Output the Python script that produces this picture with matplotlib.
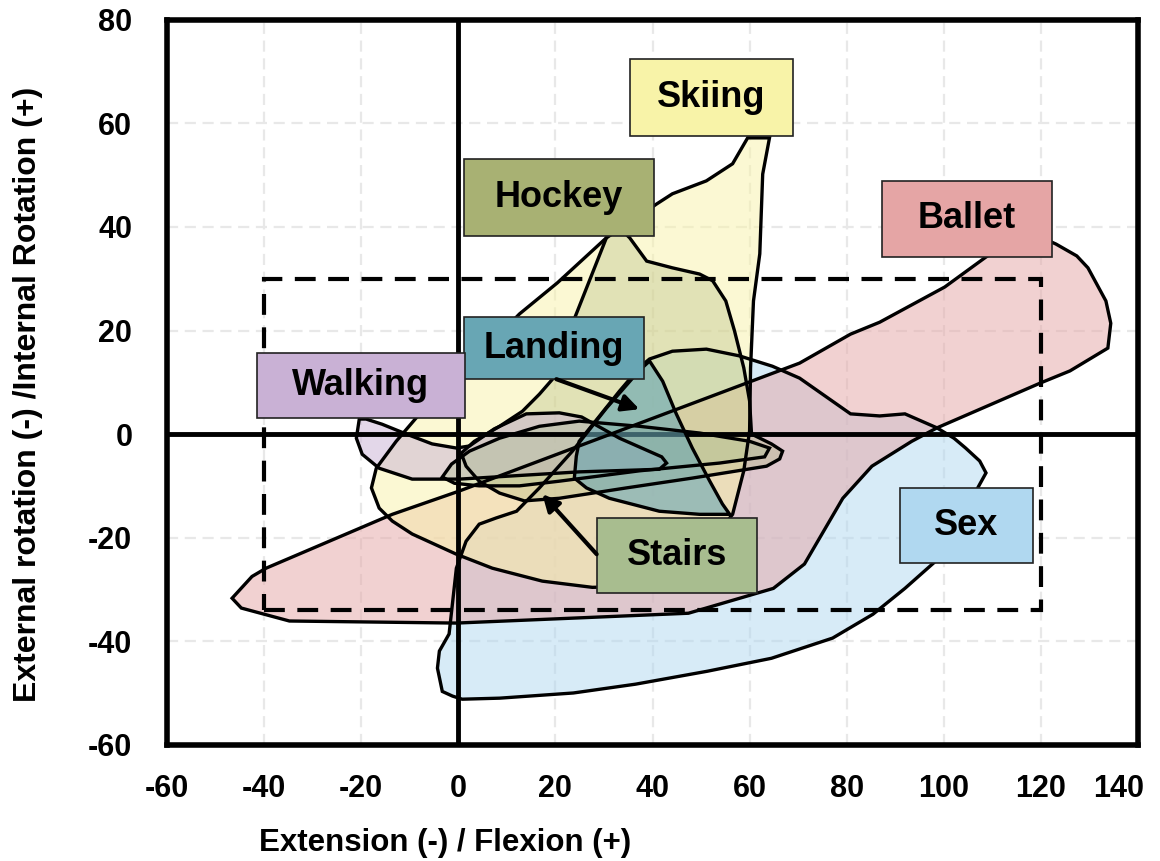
import matplotlib
matplotlib.use('Agg')
import matplotlib.pyplot as plt
from matplotlib.colors import to_rgba
from matplotlib.patches import Rectangle
from matplotlib.transforms import ScaledTranslation

plt.rcParams['font.family'] = ['Liberation Sans', 'DejaVu Sans']
plt.rcParams['axes.unicode_minus'] = False

# region outlines: flexion (x) / rotation (y), degrees
sex_x = [-3.3, -4.3, -3.9, -1.9, -0.4, 1.6, 4.3, 7.8, 12.0, 16.7, 23.5, 30.5, 35.9, 37.3, 39.4,
         44.1, 51.1, 57.9, 64.7, 70.3, 80.8, 86.8, 92.0, 98.6, 102.1, 104.5, 107.4, 108.7,
         107.4, 103.3, 99.2, 97.9, 92.0, 85.4, 77.1, 64.5, 51.3, 36.5, 23.7, 8.5, 0.8, -1.2]
sex_y = [-49.7, -45.2, -41.9, -38.6, -25.9, -20.7, -17.4, -16.2, -14.9, -10.4, -3.3, 5.0, 10.8,
         12.9, 14.5, 16.0, 16.4, 15.1, 13.1, 10.8, 3.9, 3.5, 3.9, 1.2, -0.8, -2.7, -5.2, -7.5,
         -9.7, -16.8, -23.6, -24.9, -29.8, -34.8, -39.4, -43.3, -45.8, -48.3, -50.0, -51.0,
         -51.2, -50.6]

ballet_x = [-46.6, -42.5, -39.6, -13.6, 0.2, 70.3, 80.8, 86.8, 100.2, 108.7, 111.5, 120.0,
            123.1, 127.4, 129.7, 133.4, 134.4, 133.8, 126.0, 120.0, 98.6, 93.4, 85.2, 79.2,
            71.3, 64.9, 47.4, -0.4, -34.8, -44.7]
ballet_y = [-31.7, -27.5, -25.9, -15.5, -11.0, 13.7, 19.3, 21.6, 28.4, 34.2, 36.0, 38.0,
            36.7, 34.4, 32.1, 25.7, 21.4, 16.6, 12.2, 9.9, 1.2, -1.4, -6.2, -12.4, -25.1,
            -29.8, -34.6, -36.5, -36.1, -33.6]

skiing_x = [64.1, 62.7, 62.1, 60.8, 60.2, 60.0, 58.8, 56.5, 49.7, 37.3, 27.6, 17.3, 7.0, -0.4,
            -9.5, -13.6, -16.3, -17.9, -16.9, -12.8, -8.7, 1.2, 12.6, 20.4, 30.5, 37.3, 40.8,
            44.1, 51.1, 56.5, 59.6]
skiing_y = [57.2, 50.2, 34.8, 25.7, 12.8, 0.6, -7.1, -15.5, -23.6, -29.4, -29.6, -28.4, -25.9,
            -23.2, -19.3, -16.8, -14.3, -10.4, -6.6, -1.4, 3.1, 12.2, 23.2, 29.2, 37.9, 42.1,
            44.4, 46.4, 48.9, 52.2, 57.2]

hockey_x = [32.8, 30.5, 24.3, 20.8, 19.4, 16.7, 13.2, 8.5, 3.3, 0.6, 1.6, 4.3, 8.5, 13.6, 20.8,
            34.6, 48.2, 63.5, 66.2, 66.8, 64.5, 60.4, 60.0, 58.8, 56.9, 55.1, 52.4, 49.7, 44.1,
            38.8, 35.3]
hockey_y = [40.2, 37.9, 23.2, 15.1, 10.6, 7.7, 4.4, 1.5, -1.4, -3.7, -6.2, -9.1, -11.4, -12.9,
            -12.4, -10.4, -8.5, -6.2, -4.8, -3.3, -1.9, 0.0, 6.4, 12.8, 19.9, 25.7, 29.6, 30.9,
            32.1, 33.4, 37.9]

walking_x = [-20.4, -21.0, -19.8, -16.3, -9.5, 0.2, 24.9, 41.4, 42.9, 41.9, 33.2, 25.4, 20.8,
             14.0, 7.4, 2.3, -0.4, -5.4, -10.7, -15.7, -19.0]
walking_y = [2.9, -0.8, -3.9, -6.6, -8.7, -8.7, -7.3, -6.8, -5.6, -4.4, -0.8, 3.3, 4.1, 3.9,
             1.0, -2.3, -2.7, -1.9, 0.0, 1.9, 2.9]

stairs_x = [-3.3, -1.4, 2.3, 8.5, 16.7, 24.9, 37.3, 49.7, 60.0, 64.1, 63.1, 53.8, 37.3, 20.8,
            12.6, 4.3, -0.8]
stairs_y = [-8.3, -5.8, -3.3, -0.8, 1.5, 2.5, 1.5, 0.2, -1.4, -2.7, -4.4, -5.6, -7.1, -9.1,
            -10.0, -10.0, -9.5]

landing_x = [35.3, 39.4, 42.1, 44.9, 48.2, 51.8, 54.4, 55.9, 49.7, 41.4, 31.1, 26.4, 23.9, 24.3,
             24.9, 29.1, 33.2]
landing_y = [10.6, 14.1, 10.2, 3.9, -2.7, -9.1, -13.5, -15.5, -15.5, -14.9, -12.4, -10.4, -8.5,
             -4.3, -1.4, 3.5, 8.3]

# normal range box
range_x = [-40, 120]
range_y = [-34, 30]

fig, ax = plt.subplots(figsize=(11.6, 8.61), dpi=100)
fig.subplots_adjust(left=0.144, right=0.981, bottom=0.135, top=0.977)

ax.set_xlim(-60, 140)
ax.set_ylim(-60, 80)
ax.set_xticks(range(-60, 141, 20))
ax.set_yticks(range(-60, 81, 20))
ax.grid(True, color='#e8e8e8', linestyle=(0, (5, 3)), linewidth=1.6, zorder=0)
ax.set_axisbelow(True)
ax.tick_params(length=0, labelsize=22)
ax.tick_params(axis='x', pad=21)
ax.tick_params(axis='y', pad=25)
for lab in ax.get_xticklabels() + ax.get_yticklabels():
    lab.set_fontweight('bold')
for sp in ax.spines.values():
    sp.set_linewidth(4)

# last x label is pulled in a little so it stays inside the figure
last = ax.xaxis.get_major_ticks()[-1].label1
last.set_transform(last.get_transform() + ScaledTranslation(-14 / 72, 0, fig.dpi_scale_trans))

# fills first, outlines on top (Landing fill sits over the zero lines)
regions = [
    (sex_x, sex_y, '#b0d8f0', 0.5, 2),
    (ballet_x, ballet_y, '#e5a5a5', 0.5, 3),
    (skiing_x, skiing_y, '#f8f3a8', 0.5, 4),
    (hockey_x, hockey_y, '#a8b173', 0.3, 5),
    (walking_x, walking_y, '#c9b1d5', 0.5, 6),
    (stairs_x, stairs_y, '#a8bd8f', 0.35, 7),
    (landing_x, landing_y, '#68a6b4', 0.6, 9),
]
for xs, ys, col, a, z in regions:
    ax.fill(xs, ys, facecolor=to_rgba(col, a), edgecolor='none', zorder=z)
    ax.fill(xs, ys, facecolor='none', edgecolor='black', linewidth=2.4, zorder=10)

ax.axhline(0, color='black', linewidth=3.5, zorder=8)
ax.axvline(0, color='black', linewidth=3.5, zorder=8)

ax.add_patch(Rectangle((range_x[0], range_y[0]), range_x[1] - range_x[0], range_y[1] - range_y[0],
                       fill=False, edgecolor='black', linewidth=3, linestyle=(0, (5, 3)), zorder=11))

# label boxes: (text, left, bottom, width, height, colour)
labels = [
    ('Skiing', 35.3, 57.6, 33.6, 14.9, '#f8f3a8'),
    ('Hockey', 1.2, 38.3, 39.2, 14.9, '#a8b173'),
    ('Ballet', 87.2, 34.2, 35.1, 14.7, '#e5a5a5'),
    ('Landing', 1.2, 10.6, 37.1, 12.0, '#68a6b4'),
    ('Walking', -41.4, 3.1, 42.7, 12.6, '#c9b1d5'),
    ('Stairs', 28.5, -30.7, 33.0, 14.5, '#a8bd8f'),
    ('Sex', 90.9, -24.9, 27.4, 14.5, '#b0d8f0'),
]
for txt, x0, y0, w, h, col in labels:
    ax.add_patch(Rectangle((x0, y0), w, h, facecolor=col, edgecolor='#222222', linewidth=1.2, zorder=12))
    ax.text(x0 + w / 2, y0 + h / 2, txt, ha='center', va='center', fontsize=26,
            fontweight='bold', zorder=13)

arrow = dict(arrowstyle='-|>', color='black', linewidth=3, mutation_scale=25, shrinkA=0, shrinkB=0)
ax.annotate('', xy=(37.3, 4.8), xytext=(20.2, 10.6), arrowprops=arrow, zorder=14)
ax.annotate('', xy=(17.3, -11.6), xytext=(28.5, -23.2), arrowprops=arrow, zorder=14)

ax.set_xlabel('Extension (-) / Flexion (+)', fontsize=22.5, fontweight='bold', labelpad=20)
ax.xaxis.set_label_coords(0.286, -0.115)
ax.set_ylabel('External rotation (-) /Internal Rotation (+)', fontsize=23, fontweight='bold')
ax.yaxis.set_label_coords(-0.128, 0.483)

fig.savefig('out.png', dpi=100)
